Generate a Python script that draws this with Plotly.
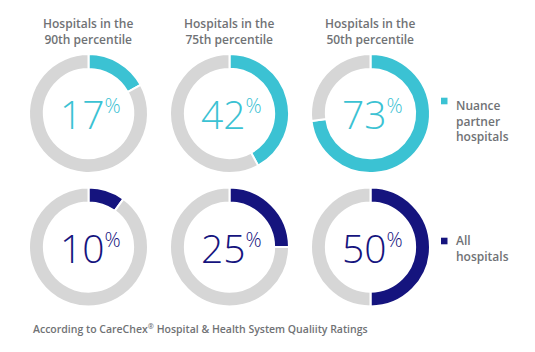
import plotly.graph_objects as go

titles = ["Hospitals in the<br>90th percentile", "Hospitals in the<br>75th percentile", "Hospitals in the<br>50th percentile"]
nuance_vals = [17, 42, 73]
all_vals = [10, 25, 50]
series_names = [["Nuance", "partner", "hospitals"], ["All", "hospitals"]]
series_colors = ["#3BC2D3", "#15147E"]
rest_color = "#D6D6D6"
text_gray = "#707275"

W, H = 535, 352
centers_x = [88.5, 229.5, 370.5]
row_cy = [113.5, 247]
R = 59.5

fig = go.Figure()
annotations = []

def yp(py):
    return 1 - py / H

for row, vals in enumerate([nuance_vals, all_vals]):
    cy = row_cy[row]
    color = series_colors[row]
    for i, v in enumerate(vals):
        cx = centers_x[i]
        fig.add_trace(go.Pie(
            values=[v, 100 - v],
            marker=dict(colors=[color, rest_color], line=dict(color="white", width=2)),
            hole=0.75, sort=False, direction="clockwise", rotation=0,
            textinfo="none", hoverinfo="skip", showlegend=False,
            domain=dict(x=[(cx - R) / W, (cx + R) / W], y=[yp(cy + R), yp(cy - R)]),
        ))
        annotations.append(dict(
            x=(cx + 2) / W, y=yp(cy), xref="paper", yref="paper",
            text=f"{v}<sup><span style='font-size:20px'>%</span></sup>",
            showarrow=False, font=dict(family="Open Sans", size=39, color=color, weight=300),
            xanchor="center", yanchor="middle",
        ))
    # legend
    sq_y = [101, 241][row]
    fig.add_shape(type="rect", xref="paper", yref="paper",
                  x0=441 / W, x1=447.5 / W, y0=yp(sq_y + 3.3), y1=yp(sq_y - 3.3),
                  fillcolor=color, line=dict(width=0))
    base0 = [110, 245][row]
    n = len(series_names[row])
    mid = base0 + 15.6 * (n - 1) / 2 - 4.3
    annotations.append(dict(
        x=454 / W, y=yp(mid), xref="paper", yref="paper",
        text="<br>".join(series_names[row]), showarrow=False, align="left",
        font=dict(family="Open Sans", size=12, color=text_gray, weight=600),
        xanchor="left", yanchor="middle",
    ))

for i in range(3):
    annotations.append(dict(
        x=(centers_x[i] - 1) / W, y=yp(31.5), xref="paper", yref="paper",
        text=titles[i], showarrow=False, align="center",
        font=dict(family="Open Sans", size=12, color=text_gray, weight=600),
        xanchor="center", yanchor="middle",
    ))

annotations.append(dict(
    x=31 / W, y=yp(328.3), xref="paper", yref="paper",
    text="According to CareChex<sup>®</sup> Hospital &amp; Health System Qualiity Ratings",
    showarrow=False, align="left",
    font=dict(family="Open Sans", size=10.5, color=text_gray, weight=600),
    xanchor="left", yanchor="middle",
))

fig.update_layout(
    width=W, height=H, margin=dict(l=0, r=0, t=0, b=0),
    paper_bgcolor="white", plot_bgcolor="white",
    annotations=annotations, showlegend=False,
)
fig.write_html("out.html")
